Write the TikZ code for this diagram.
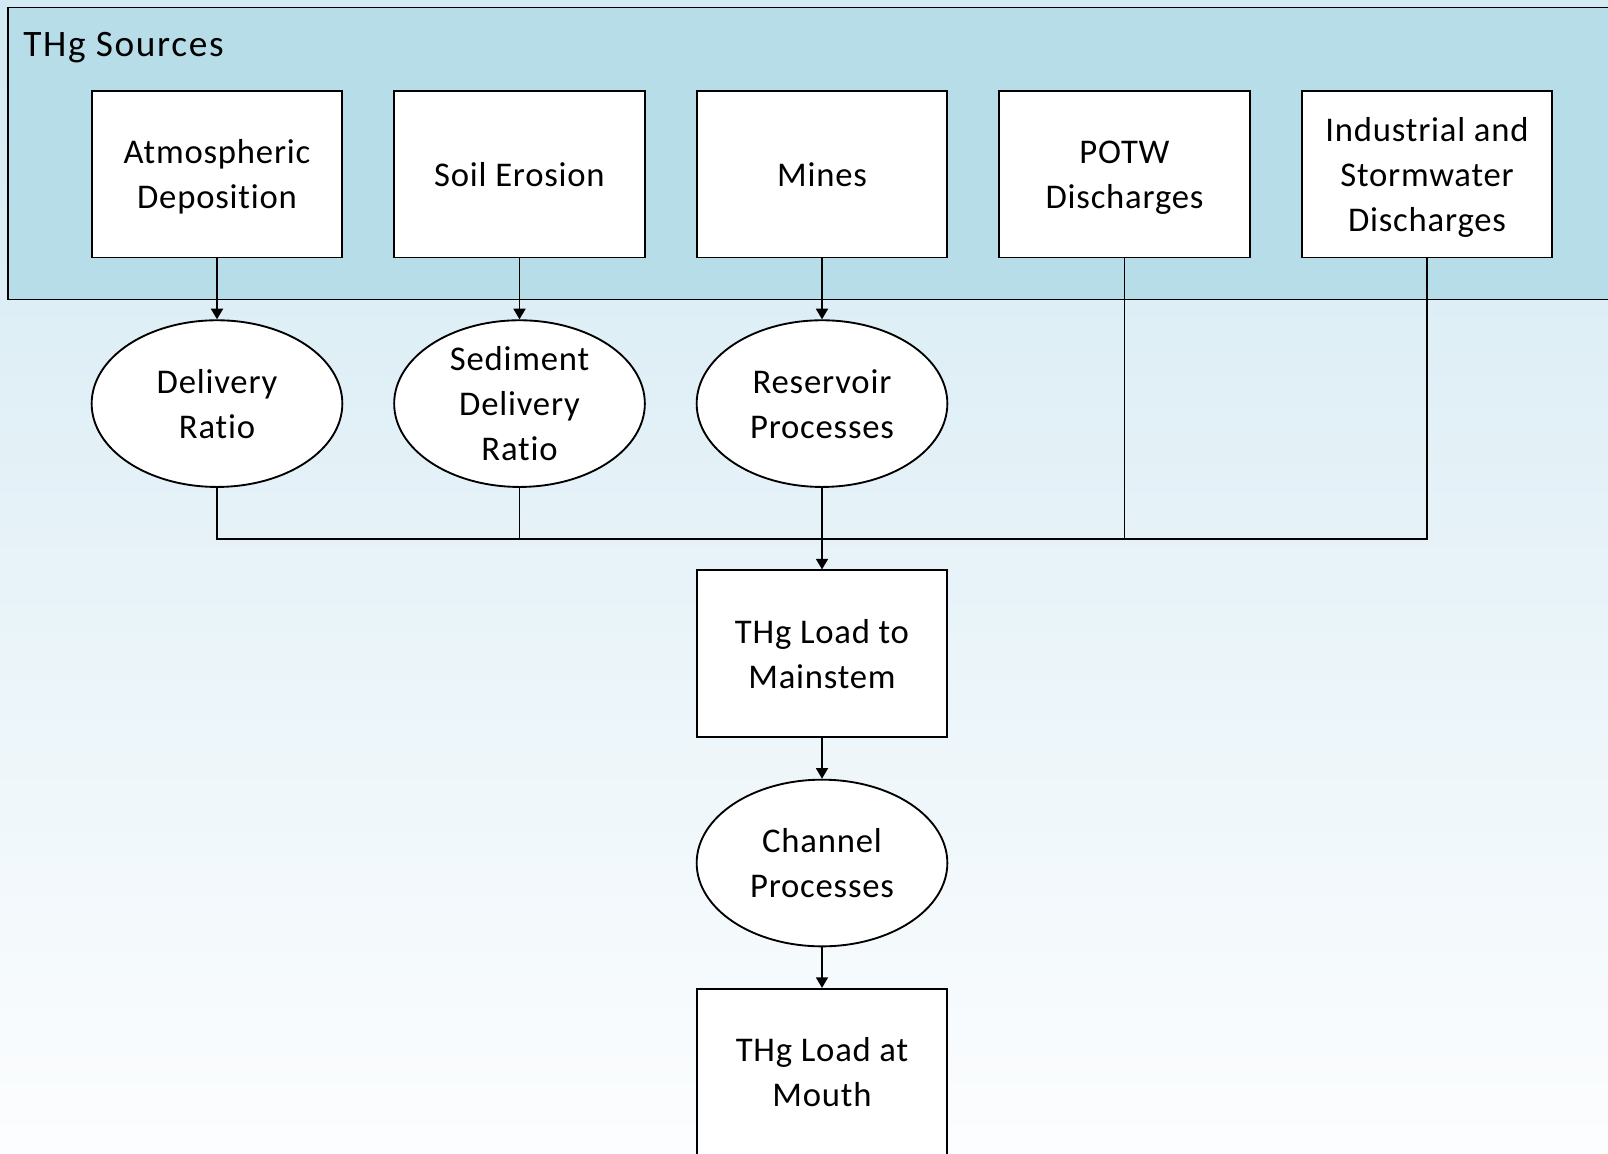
\documentclass[tikz,border=0pt]{standalone}
\usepackage{fontspec}
\setmainfont[Ligatures=NoCommon, LetterSpace=2.3]{Carlito}
\newfontfamily\titulofont[Ligatures=NoCommon, LetterSpace=4.5]{Carlito}
\usepackage{tikz}
\usetikzlibrary{shapes.geometric, positioning, arrows.meta}

\definecolor{azulfuentes}{HTML}{B7DDE8}
\definecolor{cieloarriba}{HTML}{D3E9F3}
\definecolor{cielomedio}{HTML}{E9F3F9}
\definecolor{cieloabajo}{HTML}{FCFDFE}

% texto centrado de varias lineas, algo bajado
\newcommand{\lineas}[1]{\raisebox{-2.4pt}[\height][\depth]{\begin{tabular}{@{}c@{}}#1\end{tabular}}}

\tikzset{
  caja/.style={draw, fill=white, line width=1.4pt, minimum width=188pt,
    minimum height=125pt, inner sep=0pt},
  elipse/.style={caja, ellipse, inner sep=-18pt},
  flecha/.style={-{Triangle[length=8pt, width=9pt]}, line width=1.4pt},
  linea/.style={line width=1.4pt}
}

\begin{document}
\begin{tikzpicture}[x=0.75pt, y=-0.75pt, font=\fontsize{26}{33.75}\selectfont]
		% Fondo tipo cielo
		\path[use as bounding box, top color=cieloarriba, middle color=cielomedio,
		  bottom color=cieloabajo] (0,0) rectangle (1608,1153);
		\clip (0,0) rectangle (1608,1153);
		% Marco de las fuentes de THg
		\draw[fill=azulfuentes, line width=1.4pt] (8,7.5) rectangle (1650,299.5);
		\node[anchor=base west, inner sep=0pt, font=\titulofont\fontsize{28}{34}\selectfont]
		  (titulo) at (23,56) {THg Sources};
		% Fuentes
		\node[caja] (atmos) at (217,174.2) {\lineas{Atmospheric\\Deposition}};
		\node[caja] (suelo) at (519.5,174.2) {\lineas{Soil Erosion}};
		\node[caja] (minas) at (822,174.2) {\lineas{Mines}};
		\node[caja] (potw) at (1124.5,174.2) {\lineas{POTW\\Discharges}};
		\node[caja] (indus) at (1427,174.2) {\lineas{Industrial and\\Stormwater\\Discharges}};
		% Procesos
		\node[elipse] (entrega) at (217,403.6) {\lineas{Delivery\\Ratio}};
		\node[elipse] (sedim) at (519.5,403.6) {\lineas{Sediment\\Delivery\\Ratio}};
		\node[elipse] (embalse) at (822,403.6) {\lineas{Reservoir\\Processes}};
		% Cargas en el cauce
		\node[caja] (carga) at (822,653.7) {\lineas{THg Load to\\Mainstem}};
		\node[elipse] (canal) at (822,863) {\lineas{Channel\\Processes}};
		\node[caja] (boca) at (822,1072.2) {\lineas{THg Load at\\Mouth}};
		\coordinate (union) at (822,539.3);
		% Conexiones
		\draw[flecha] (atmos) -- (entrega);
		\draw[flecha] (suelo) -- (sedim);
		\draw[flecha] (minas) -- (embalse);
		\draw[linea] (entrega.south) -- (entrega.south |- union) -- (indus.south |- union) -- (indus.south);
		\draw[linea] (sedim.south) -- (sedim.south |- union);
		\draw[linea] (potw.south) -- (potw.south |- union);
		\draw[flecha] (embalse.south) -- (carga.north);
		\draw[flecha] (carga) -- (canal);
		\draw[flecha] (canal) -- (boca);
	\end{tikzpicture}
\end{document}
